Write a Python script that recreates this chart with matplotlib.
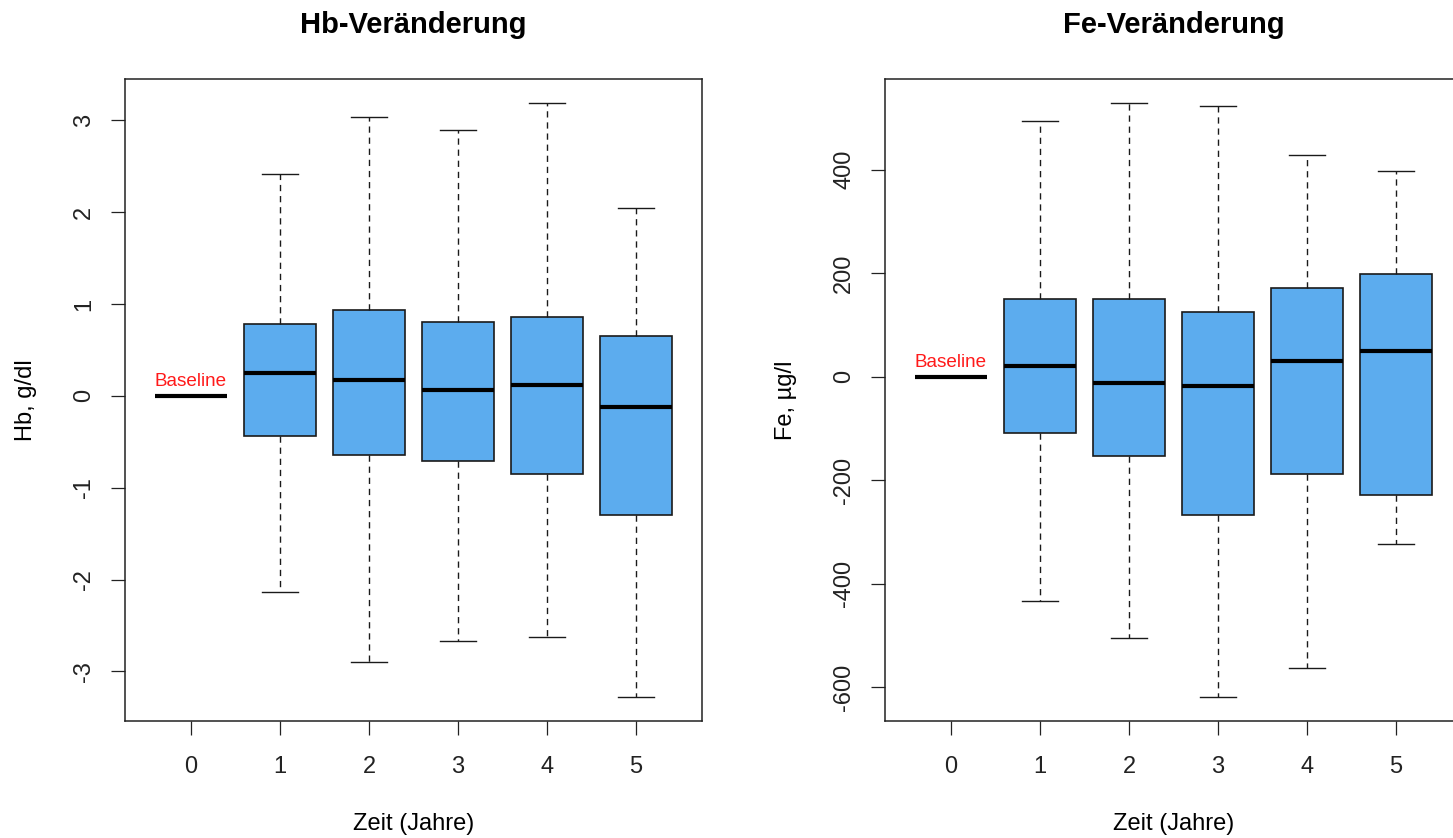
import matplotlib.pyplot as plt

plt.rcParams['font.family'] = ['Liberation Sans', 'DejaVu Sans']
plt.rcParams['axes.unicode_minus'] = False

# groups: 0 = baseline, 1..5 years
years = ['0', '1', '2', '3', '4', '5']

# Hb change, g/dl
hb_med = [0, 0.25, 0.17, 0.06, 0.12, -0.12]
hb_q1 = [0, -0.44, -0.64, -0.71, -0.85, -1.30]
hb_q3 = [0, 0.78, 0.93, 0.80, 0.86, 0.65]
hb_lo = [0, -2.13, -2.90, -2.67, -2.62, -3.28]
hb_hi = [0, 2.42, 3.03, 2.89, 3.19, 2.05]
hb_ticks = [-3, -2, -1, 0, 1, 2, 3]

# Fe change, ug/l
fe_med = [0, 20, -13, -18, 31, 49]
fe_q1 = [0, -109, -153, -267, -188, -228]
fe_q3 = [0, 151, 151, 124, 171, 198]
fe_lo = [0, -433, -504, -619, -562, -323]
fe_hi = [0, 494, 529, 522, 429, 397]
fe_ticks = [-600, -400, -200, 0, 200, 400]

BOX_COLOR = '#5CACEE'


def make_stats(med, q1, q3, lo, hi):
    return [dict(med=m, q1=a, q3=b, whislo=l, whishi=h, fliers=[])
            for m, a, b, l, h in zip(med, q1, q3, lo, hi)]


def panel(ax, stats, ticks, title, ylabel):
    pos = list(range(1, len(stats) + 1))
    ax.bxp(stats, positions=pos, widths=0.8, capwidths=0.4,
           showfliers=False, patch_artist=True,
           boxprops=dict(facecolor=BOX_COLOR, edgecolor='#1a1a1a', linewidth=1.2),
           medianprops=dict(color='black', linewidth=3.0, solid_capstyle='butt'),
           whiskerprops=dict(color='#1a1a1a', linewidth=1.0, linestyle=(0, (4.5, 3.5))),
           capprops=dict(color='#1a1a1a', linewidth=1.0))
    lo = min(s['whislo'] for s in stats)
    hi = max(s['whishi'] for s in stats)
    ext = 0.04 * (hi - lo)
    ax.set_ylim(lo - ext, hi + ext)
    ax.set_xlim(0.5 - 0.24, len(stats) + 0.5 + 0.24)
    ax.set_xticks(pos)
    ax.set_xticklabels(years)
    ax.set_yticks(ticks)
    ax.set_yticklabels([str(t) for t in ticks], rotation=90, va='center')
    ax.tick_params(axis='both', direction='out', length=10, width=0.9,
                   labelsize=17, colors='#222222')
    ax.tick_params(axis='x', pad=15.5)
    ax.tick_params(axis='y', pad=11.5)
    for sp in ax.spines.values():
        sp.set_linewidth(1.1)
        sp.set_color('#222222')
    ax.set_title(title, fontsize=21, fontweight='bold', pad=33)
    ax.set_xlabel('Zeit (Jahre)', fontsize=17, labelpad=25)
    ax.set_ylabel(ylabel, fontsize=17, labelpad=26)
    ax.annotate('Baseline', xy=(1, 0), xytext=(0, 4), textcoords='offset points',
                ha='center', va='bottom', color='#ff1a1a', fontsize=13.6)


fig = plt.figure(figsize=(14.53, 8.38), dpi=100)
W, H = 1453, 838
ax1 = fig.add_axes([125 / W, (H - 721) / H, 577 / W, 642 / H])
ax2 = fig.add_axes([885 / W, (H - 721) / H, 577 / W, 642 / H])

panel(ax1, make_stats(hb_med, hb_q1, hb_q3, hb_lo, hb_hi), hb_ticks,
      'Hb-Veränderung', 'Hb, g/dl')
panel(ax2, make_stats(fe_med, fe_q1, fe_q3, fe_lo, fe_hi), fe_ticks,
      'Fe-Veränderung', 'Fe, µg/l')

fig.savefig('out.png', dpi=100)
